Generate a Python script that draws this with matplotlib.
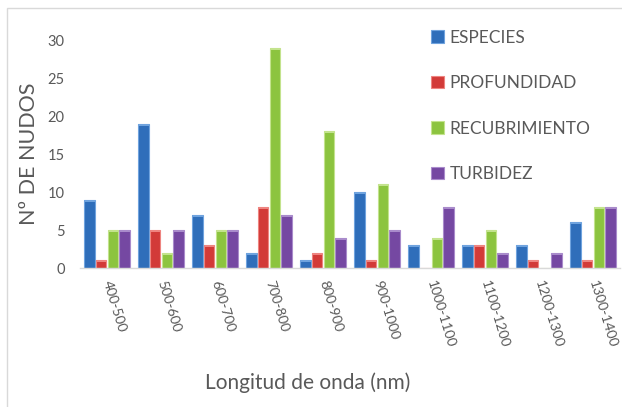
import numpy as np
import matplotlib.pyplot as plt
import matplotlib.transforms as mtransforms
from matplotlib.patches import Rectangle

plt.rcParams['font.family'] = ['Lato', 'DejaVu Sans']

# Data
categories = ["400-500", "500-600", "600-700", "700-800", "800-900",
              "900-1000", "1000-1100", "1100-1200", "1200-1300", "1300-1400"]
especies = [9, 19, 7, 2, 1, 10, 3, 3, 3, 6]
profundidad = [1, 5, 3, 8, 2, 1, 0, 3, 1, 1]
recubrimiento = [5, 2, 5, 29, 18, 11, 4, 5, 0, 8]
turbidez = [5, 5, 5, 7, 4, 5, 8, 2, 2, 8]

series = [
    ("ESPECIES", especies, "#2F6EBA", "#6FA3DE"),
    ("PROFUNDIDAD", profundidad, "#D23A38", "#EE8480"),
    ("RECUBRIMIENTO", recubrimiento, "#8CC43F", "#C3E38D"),
    ("TURBIDEZ", turbidez, "#7548A2", "#A98BCB"),
]

text_col = "#595959"

fig = plt.figure(figsize=(6.22, 4.07), dpi=100)
# light chart border (cropped on right/bottom in the original)
fig.patches.append(Rectangle((7 / 622, -0.1), 1.2, 1 - 8 / 407 + 0.1,
                             transform=fig.transFigure, fill=False,
                             edgecolor="#D9D9D9", linewidth=1.0))

ax = fig.add_axes([80 / 622, 1 - 268 / 407, 540 / 622, 228 / 407])

x = np.arange(len(categories))
width = 0.19
step = 0.215
for i, (name, vals, col, light) in enumerate(series):
    pos = x + (i - 1.5) * step
    vals = np.array(vals)
    ax.bar(pos, vals, width, color=col, edgecolor=light, linewidth=0.8,
           label=name, zorder=2)
    # lighter cap on top of each bar for the bevel look
    ax.bar(pos, np.where(vals > 0, 0.25, 0), width, bottom=vals - 0.25,
           color=light, linewidth=0, zorder=3)

ax.set_xlim(-0.5, len(categories) - 0.5)
ax.set_ylim(0, 30)
ax.set_yticks(range(0, 31, 5))
ax.set_xticks(x)
ax.set_xticklabels(categories, rotation=-73, ha="left", va="center",
                   rotation_mode="anchor", fontsize=10, color=text_col)
shift = mtransforms.ScaledTranslation(-7 / 100, 0, fig.dpi_scale_trans)
for lab in ax.get_xticklabels():
    lab.set_transform(lab.get_transform() + shift)
ax.tick_params(axis="y", length=0, pad=11, labelsize=10.5, labelcolor=text_col)
ax.tick_params(axis="x", length=0, pad=9)

for s in ["top", "right", "left"]:
    ax.spines[s].set_visible(False)
ax.spines["bottom"].set_color("#D9D9D9")
ax.spines["bottom"].set_linewidth(1.0)

ax.set_ylabel("Nº DE NUDOS", fontsize=15.5, color=text_col, labelpad=6)
fig.text(308 / 622, 1 - 383 / 407, "Longitud de onda (nm)", ha="center",
         va="center", fontsize=15, color=text_col)

handles, labels = ax.get_legend_handles_labels()
leg = ax.legend(handles[:4], labels[:4], loc="upper left",
                bbox_to_anchor=(415 / 622, 1 - 14 / 407),
                bbox_transform=fig.transFigure, frameon=False,
                fontsize=12.5, labelcolor=text_col, handlelength=0.75,
                handleheight=0.75, handletextpad=0.35, labelspacing=1.7)

fig.savefig("out.png", dpi=100)
